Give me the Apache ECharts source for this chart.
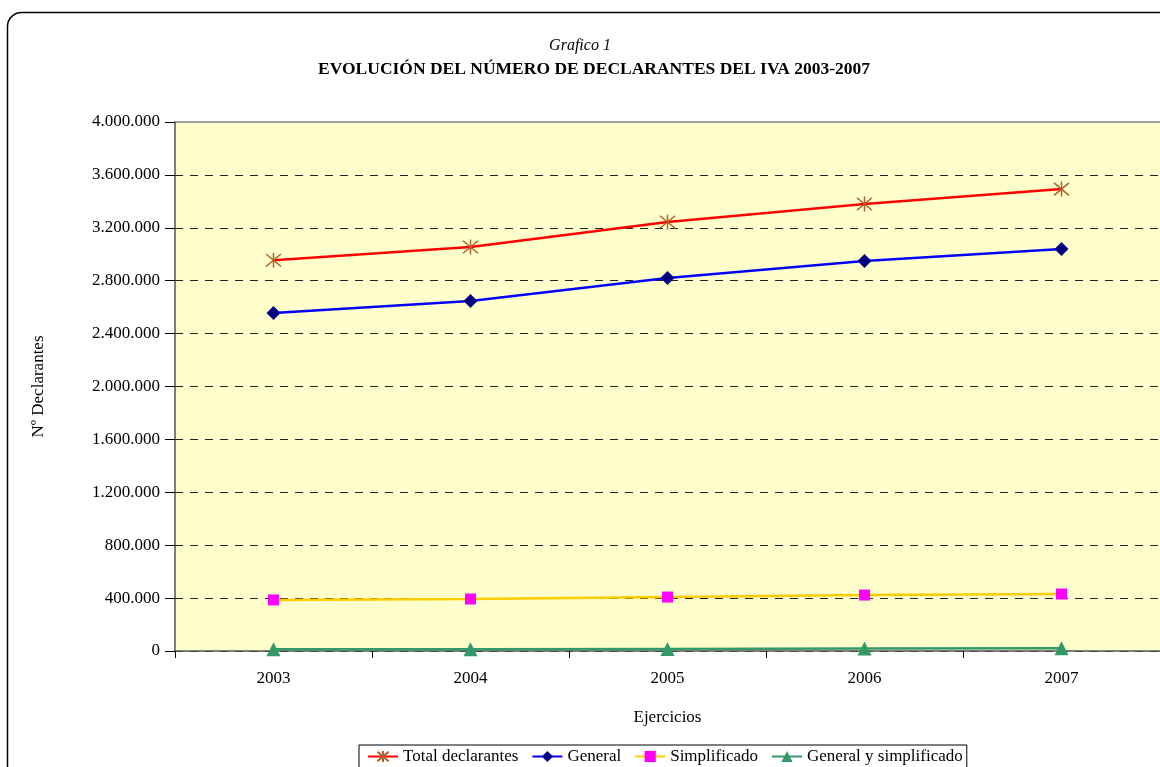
<!DOCTYPE html>
<html>
<head>
<meta charset="utf-8">
<script src="https://cdn.jsdelivr.net/npm/echarts@6/dist/echarts.min.js"></script>
<style>
  html, body { margin: 0; padding: 0; background: #fff; }
  #main { width: 1160px; height: 767px; }
</style>
</head>
<body>
<div id="main"></div>
<script>
// datos
const years = ['2003', '2004', '2005', '2006', '2007'];
const totalDeclarantes = [2955000, 3055000, 3244000, 3380000, 3493000];
const general = [2556000, 2647000, 2820000, 2949000, 3040000];
const simplificado = [386000, 393000, 408000, 423000, 431000];
const generalSimplificado = [13000, 14000, 15000, 19000, 21000];

const serif = '"Liberation Serif", "DejaVu Serif", serif';
const asterisk = 'path://M0,0L10,10M10,0L0,10M5,-1L5,11';

function fmt(v) {
    return String(v).replace(/\B(?=(\d{3})+(?!\d))/g, '.');
}

let chart = echarts.init(document.getElementById('main'));
let option = {
    animation: false,
    textStyle: {fontFamily: serif, color: '#000'},
    title: [
        {text: 'Grafico 1', left: 'center', top: 33,
            textStyle: {fontFamily: serif, fontStyle: 'italic', fontWeight: 'normal', fontSize: 16, color: '#000'}},
        {text: 'EVOLUCIÓN DEL NÚMERO DE DECLARANTES DEL IVA 2003-2007', left: 313, top: 55,
            textStyle: {fontFamily: serif, fontWeight: 'bold', fontSize: 17.5, color: '#000'}}
    ],
    graphic: [
        {type: 'rect', left: 5, top: 10, z: -10,
            shape: {width: 1200, height: 800, r: 14},
            style: {fill: 'none', stroke: '#000', lineWidth: 1.5}}
    ],
    legend: {
        top: 745, left: 359,
        itemWidth: 30, itemHeight: 14, itemGap: 13,
        borderColor: '#000', borderWidth: 1, padding: [3, 4, 6, 8],
        textStyle: {fontFamily: serif, fontSize: 17, color: '#000'},
        data: ['Total declarantes', 'General', 'Simplificado', 'General y simplificado']
    },
    grid: {left: 175, right: 0, top: 122, bottom: 116, show: true,
        backgroundColor: '#FFFFCC', borderColor: 'transparent', borderWidth: 0},
    xAxis: [
        {
            type: 'category', data: years, boundaryGap: true,
            name: 'Ejercicios', nameLocation: 'middle', nameGap: 58,
            nameTextStyle: {fontFamily: serif, fontSize: 17, color: '#000'},
            axisLine: {lineStyle: {color: '#555', width: 1.5}},
            axisTick: {show: true, length: 7, lineStyle: {color: '#000'}},
            axisLabel: {fontFamily: serif, fontSize: 17, color: '#000', margin: 19}
        },
        {
            // borde superior del área de trazado
            type: 'category', data: years, position: 'top',
            axisLine: {lineStyle: {color: '#808080', width: 1.5}},
            axisTick: {show: false}, axisLabel: {show: false}
        }
    ],
    yAxis: {
        type: 'value', min: 0, max: 4000000, interval: 400000,
        name: 'Nº Declarantes', nameLocation: 'middle', nameGap: 128, nameRotate: 90,
        nameTextStyle: {fontFamily: serif, fontSize: 17, color: '#000'},
        axisLine: {show: true, lineStyle: {color: '#555', width: 1.5}},
        axisTick: {show: true, length: 10, lineStyle: {color: '#000'}},
        axisLabel: {fontFamily: serif, fontSize: 17, color: '#000', margin: 15, formatter: fmt},
        splitLine: {showMaxLine: false, lineStyle: {color: '#222', type: [8, 7], width: 1}}
    },
    series: [
        {name: 'Total declarantes', type: 'line', data: totalDeclarantes,
            symbol: asterisk, symbolSize: 15, showAllSymbol: true,
            lineStyle: {color: '#FF0000', width: 2.5},
            itemStyle: {color: 'rgba(0,0,0,0)', borderColor: '#B0602A', borderWidth: 1.5}},
        {name: 'General', type: 'line', data: general,
            symbol: 'diamond', symbolSize: 14,
            lineStyle: {color: '#0000FF', width: 2.5},
            itemStyle: {color: '#000080'}},
        {name: 'Simplificado', type: 'line', data: simplificado,
            symbol: 'rect', symbolSize: 11,
            lineStyle: {color: '#FFCC00', width: 2.5},
            itemStyle: {color: '#FF00FF'}},
        {name: 'General y simplificado', type: 'line', data: generalSimplificado,
            symbol: 'triangle', symbolSize: 14,
            lineStyle: {color: '#339966', width: 2.5},
            itemStyle: {color: '#339966'}}
    ]
};
chart.setOption(option);
</script>
</body>
</html>
